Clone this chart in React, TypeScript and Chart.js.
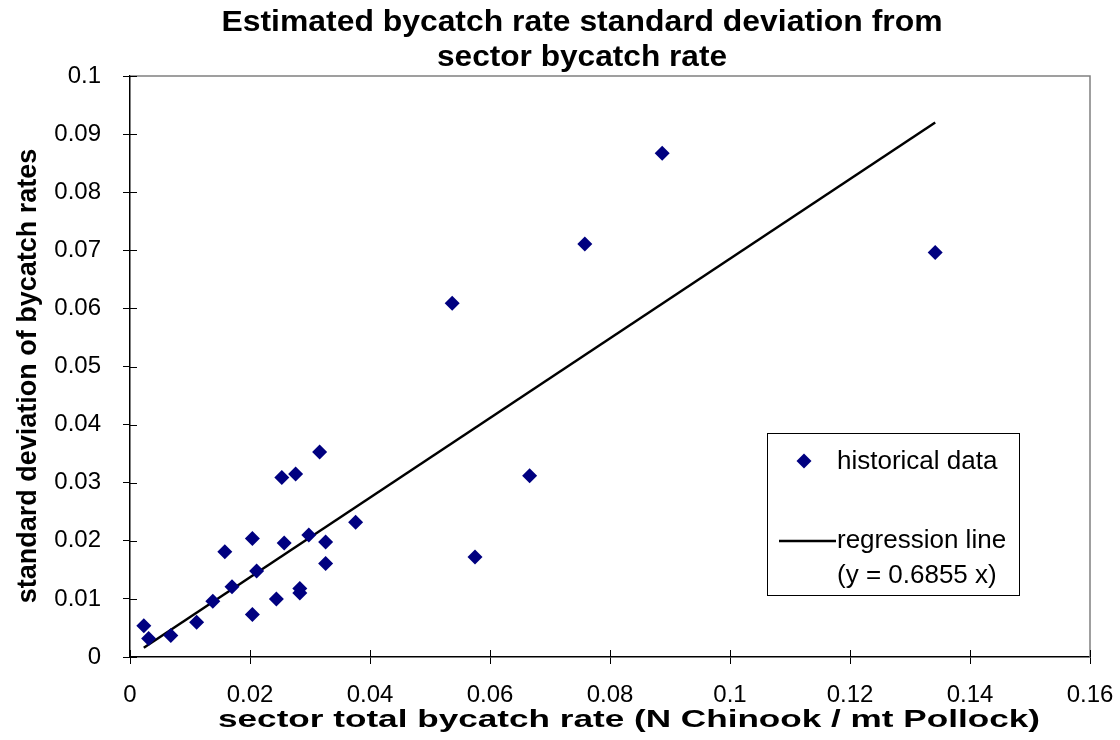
import { useEffect, useRef } from "react";
import { Chart, registerables } from "chart.js";

Chart.register(...registerables);

// Historical data: sector total bycatch rate (x) vs std. dev. of bycatch rates (y)
const sectorRate = [
  0.0023, 0.0031, 0.0068, 0.0111, 0.0138, 0.0158, 0.017, 0.0204, 0.0204,
  0.0211, 0.0244, 0.0253, 0.0257, 0.0276, 0.0283, 0.0283, 0.0298, 0.0316,
  0.0326, 0.0326, 0.0376, 0.0537, 0.0575, 0.0666, 0.0758, 0.0887, 0.1342,
];
const sdRate = [
  0.0054, 0.0032, 0.0037, 0.006, 0.0096, 0.0181, 0.0121, 0.0073, 0.0204,
  0.0148, 0.01, 0.0309, 0.0196, 0.0315, 0.0118, 0.011, 0.021, 0.0353,
  0.0198, 0.0161, 0.0232, 0.0609, 0.0172, 0.0312, 0.0711, 0.0867, 0.0696,
];

// Regression line (y = 0.6855 x) end points
const regressionX = [0.0023, 0.1342];
const regressionY = [0.0016, 0.092];

const titleLines = ["Estimated bycatch rate standard deviation from", "sector bycatch rate"];
const xTitle = "sector total bycatch rate (N Chinook / mt Pollock)";
const yTitle = "standard deviation of bycatch rates";
const legendPoints = "historical data";
const legendLine = ["regression line", "(y = 0.6855 x)"];

const FONT = "'Liberation Sans', Arial, Helvetica, sans-serif";
const NAVY = "#000080";

const fmt = (v: number) => String(Number(Number(v).toFixed(2)));

// draw text centred at (cx, cy), stretched horizontally to a target width
function stretchedText(ctx: CanvasRenderingContext2D, text: string, cx: number, cy: number, targetW: number) {
  const w = ctx.measureText(text).width;
  const k = w > 0 ? targetW / w : 1;
  ctx.save();
  ctx.translate(cx, cy);
  ctx.scale(k, 1);
  ctx.textAlign = "center";
  ctx.textBaseline = "middle";
  ctx.fillText(text, 0, 0);
  ctx.restore();
}

const decor = {
  id: "decor",
  beforeDatasetsDraw(chart: any) {
    const { ctx, chartArea: a, scales } = chart;
    ctx.save();
    ctx.strokeStyle = "#808080";
    ctx.lineWidth = 1.5;
    ctx.beginPath();
    ctx.moveTo(a.left, a.top);
    ctx.lineTo(a.right, a.top);
    ctx.lineTo(a.right, a.bottom);
    ctx.stroke();
    ctx.strokeStyle = "#000";
    ctx.lineWidth = 1;
    scales.x.ticks.forEach((t: any) => {
      const px = Math.round(scales.x.getPixelForValue(t.value)) + 0.5;
      ctx.beginPath();
      ctx.moveTo(px, a.bottom);
      ctx.lineTo(px, a.bottom - 7);
      ctx.stroke();
    });
    scales.y.ticks.forEach((t: any) => {
      const py = Math.round(scales.y.getPixelForValue(t.value)) + 0.5;
      ctx.beginPath();
      ctx.moveTo(a.left, py);
      ctx.lineTo(a.left + 7, py);
      ctx.stroke();
    });
    ctx.restore();
  },
  afterDraw(chart: any) {
    const { ctx } = chart;
    ctx.save();
    ctx.fillStyle = "#000";
    // main title
    ctx.font = `bold 29px ${FONT}`;
    stretchedText(ctx, titleLines[0], 582, 23, 721);
    stretchedText(ctx, titleLines[1], 582, 58, 290);
    // x title
    ctx.font = `bold 24px ${FONT}`;
    stretchedText(ctx, xTitle, 629, 720, 822);
    // y title
    ctx.save();
    ctx.translate(29, 376);
    ctx.rotate(-Math.PI / 2);
    ctx.font = `bold 27px ${FONT}`;
    ctx.textAlign = "center";
    ctx.textBaseline = "middle";
    ctx.fillText(yTitle, 0, 0);
    ctx.restore();

    // legend
    ctx.fillStyle = "#fff";
    ctx.fillRect(767, 433, 252, 162);
    ctx.strokeStyle = "#000";
    ctx.lineWidth = 1;
    ctx.strokeRect(767.5, 433.5, 252, 162);
    ctx.fillStyle = NAVY;
    const cx = 804, cy = 461, r = 7.5;
    ctx.beginPath();
    ctx.moveTo(cx, cy - r);
    ctx.lineTo(cx + r, cy);
    ctx.lineTo(cx, cy + r);
    ctx.lineTo(cx - r, cy);
    ctx.closePath();
    ctx.fill();
    ctx.strokeStyle = "#000";
    ctx.lineWidth = 2.5;
    ctx.beginPath();
    ctx.moveTo(779, 541);
    ctx.lineTo(836, 541);
    ctx.stroke();
    ctx.fillStyle = "#000";
    ctx.textAlign = "left";
    ctx.textBaseline = "middle";
    ctx.font = `26px ${FONT}`;
    ctx.fillText(legendPoints, 837, 462);
    ctx.fillText(legendLine[0], 837, 541);
    ctx.fillText(legendLine[1], 837, 576);
    ctx.restore();
  },
};

export default function App() {
  const ref = useRef<HTMLCanvasElement | null>(null);

  useEffect(() => {
    if (!ref.current) return;
    const chart = new Chart(ref.current, {
      type: "scatter",
      data: {
        datasets: [
          {
            label: "regression line",
            type: "line",
            data: regressionX.map((x, i) => ({ x, y: regressionY[i] })),
            borderColor: "#000",
            borderWidth: 2.5,
            pointRadius: 0,
            fill: false,
            order: 2,
          } as any,
          {
            label: "historical data",
            data: sectorRate.map((x, i) => ({ x, y: sdRate[i] })),
            backgroundColor: NAVY,
            borderColor: NAVY,
            pointStyle: "rectRot",
            pointRadius: 7.5,
            borderWidth: 0,
            order: 1,
          },
        ],
      },
      options: {
        responsive: false,
        animation: false,
        layout: { padding: { top: 76, right: 30, left: 0, bottom: 0 } },
        plugins: {
          legend: { display: false },
          title: { display: false },
          tooltip: { enabled: false },
        },
        scales: {
          x: {
            type: "linear",
            min: 0,
            max: 0.16,
            afterFit: (s: any) => {
              s.height = 83;
              s.paddingLeft = 0;
              s.paddingRight = 0;
            },
            ticks: {
              stepSize: 0.02,
              color: "#000",
              font: { family: FONT, size: 24 },
              padding: 17,
              maxRotation: 0,
              callback: (v: any) => fmt(v),
            },
            grid: {
              drawOnChartArea: false,
              drawTicks: true,
              tickLength: 7,
              color: "#000",
            },
            border: { color: "#000", width: 1.5 },
          },
          y: {
            type: "linear",
            min: 0,
            max: 0.1,
            afterFit: (s: any) => {
              s.width = 130;
              s.paddingTop = 0;
              s.paddingBottom = 0;
            },
            ticks: {
              stepSize: 0.01,
              color: "#000",
              font: { family: FONT, size: 24 },
              padding: 22,
              callback: (v: any) => fmt(v),
            },
            grid: {
              drawOnChartArea: false,
              drawTicks: true,
              tickLength: 7,
              color: "#000",
            },
            border: { color: "#000", width: 1.5 },
          },
        },
      },
      plugins: [decor],
    });
    return () => chart.destroy();
  }, []);

  return (
    <div style={{ position: "absolute", left: 0, top: 0, width: 1120, height: 740, background: "#fff" }}>
      <canvas ref={ref} width={1120} height={740} style={{ display: "block" }} />
    </div>
  );
}
